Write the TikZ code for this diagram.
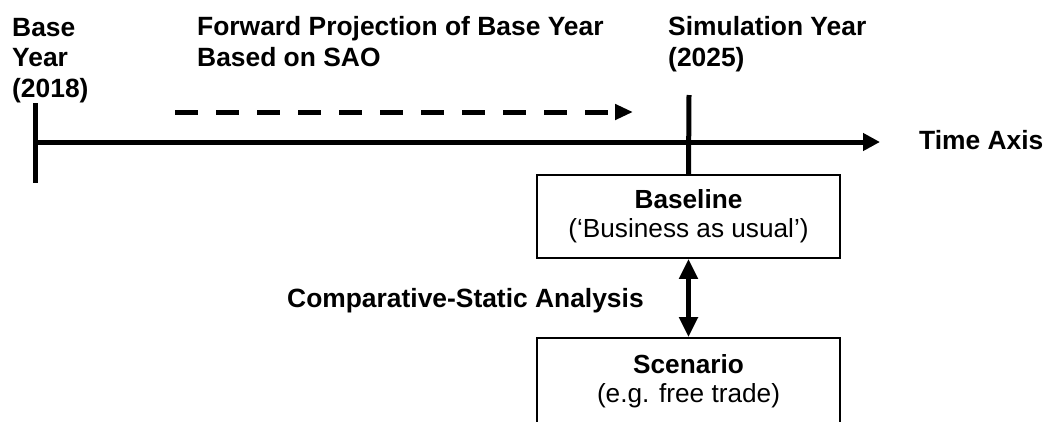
\documentclass[tikz,border=0pt]{standalone}
\usepackage{fontspec}
\setmainfont{Liberation Sans}
\usetikzlibrary{arrows.meta}
\begin{document}
\begin{tikzpicture}[x=1pt,y=-1pt,
  lbl/.style={font=\fontsize{26.4}{30.5}\selectfont\bfseries, inner sep=0pt, align=left},
  box/.style={draw, line width=1.8pt, minimum width=303pt, inner sep=0pt, align=center, font=\fontsize{26.2}{29}\selectfont},
  heavy/.style={line width=5pt},
  tip/.style={-{Triangle[length=17pt,width=17pt]}},
  ]
\useasboundingbox (0,0) rectangle (1046,421);
\clip (0,0) rectangle (1046,421);

% base year tick and time axis
\coordinate (b0) at (35,103);
\coordinate (b1) at (35,183);
\draw[heavy] (b0) -- (b1);
\coordinate (axL) at (35,142);
\coordinate (axR) at (880,142);
\draw[heavy, tip] (axL) -- (axR);

% dashed forward projection arrow
\coordinate (d0) at (175,112);
\coordinate (d1) at (633,112);
\draw[heavy, dash pattern=on 23pt off 18pt, -{Triangle[length=18pt,width=15pt]}] (d0) -- (d1);

% boxes
\node[box, minimum height=83pt] (base) at (688.5,216.5) {{\bfseries Baseline}\\(‘Business as usual’)};
\node[box, minimum height=86pt] (scen) at (688.5,381) {{\bfseries Scenario}\\(e.g. free trade)};

% simulation year tick
\coordinate (s0) at (689,95);
\draw[heavy] (s0) -- (base.north);

% comparative-static double arrow
\draw[heavy, {Triangle[length=20pt,width=18pt]}-{Triangle[length=20pt,width=18pt]}] (base.south) -- (scen.north);

% labels (anchored at the baseline of their last line)
\node[lbl, anchor=base west] (by) at (12,97) {Base\\Year\\(2018)};
\node[lbl, anchor=base west] (fp) at (197,66) {Forward Projection of Base Year\\Based on SAO};
\node[lbl, anchor=base west] (sy) at (668,66) {Simulation Year\\(2025)};
\node[lbl, anchor=base west] (ta) at (919,149) {Time Axis};
\node[lbl, anchor=base west] (csa) at (287,307) {Comparative-Static Analysis};
\end{tikzpicture}
\end{document}
